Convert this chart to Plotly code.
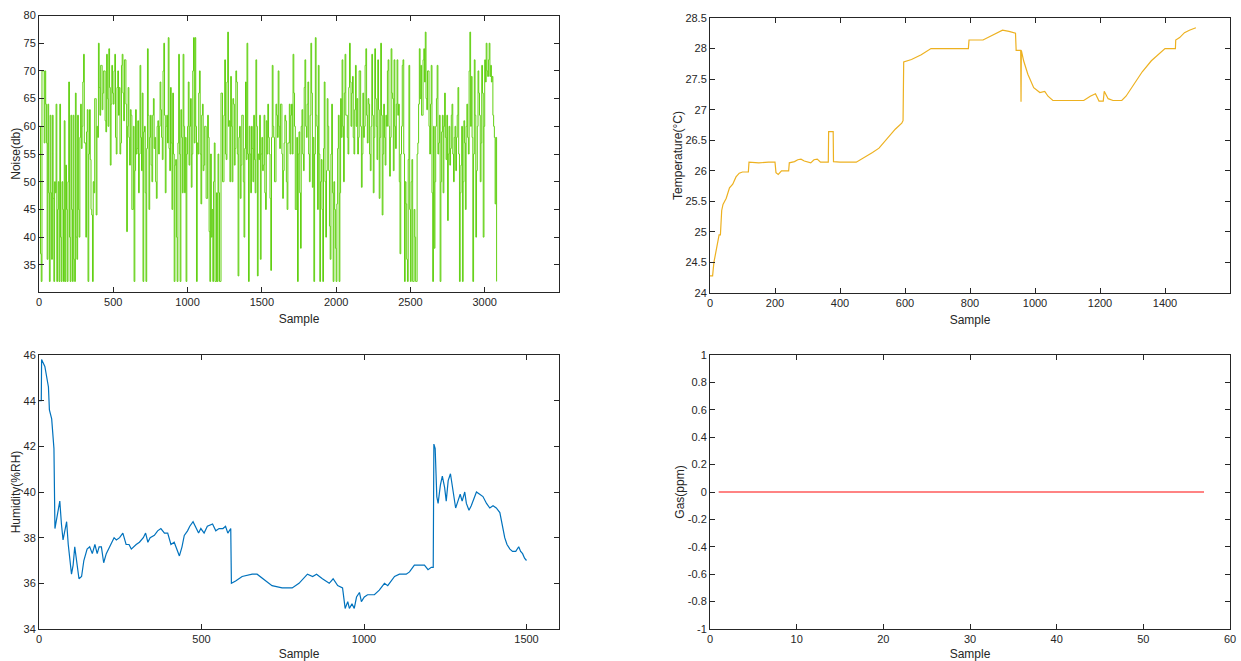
import plotly.graph_objects as go

# ---------------- data ----------------
noise_db = [
    60, 60, 37, 32, 70, 70, 70, 57, 70, 64, 57, 36, 64, 48, 32, 62, 48, 36, 62, 47,
    32, 50, 48, 64, 32, 45, 50, 32, 64, 40, 32, 50, 45, 32, 61, 32, 53, 45, 32, 50,
    68, 40, 32, 62, 45, 32, 62, 36, 32, 66, 40, 36, 62, 45, 40, 58, 64, 56, 60, 68,
    73, 57, 57, 40, 59, 63, 32, 55, 63, 54, 45, 44, 32, 50, 48, 65, 65, 44, 60, 58,
    75, 67, 62, 71, 71, 63, 66, 70, 70, 61, 59, 73, 65, 60, 74, 67, 53, 64, 71, 66,
    64, 70, 73, 58, 55, 67, 70, 62, 67, 55, 57, 71, 73, 66, 61, 72, 72, 64, 41, 60,
    67, 58, 53, 63, 62, 45, 45, 60, 32, 52, 63, 55, 56, 61, 48, 55, 71, 58, 52, 66,
    32, 59, 60, 48, 32, 56, 74, 62, 45, 58, 62, 53, 50, 62, 65, 56, 58, 50, 47, 60,
    61, 55, 60, 68, 63, 58, 54, 70, 75, 62, 48, 60, 62, 57, 76, 56, 52, 67, 57, 45,
    66, 55, 32, 53, 54, 40, 32, 57, 73, 55, 32, 63, 58, 48, 73, 60, 48, 58, 32, 55,
    60, 68, 53, 60, 65, 49, 55, 70, 76, 57, 76, 60, 32, 57, 55, 66, 70, 55, 46, 62,
    64, 52, 53, 60, 60, 47, 47, 62, 58, 41, 32, 55, 40, 45, 32, 50, 57, 32, 32, 48,
    32, 55, 48, 32, 32, 66, 66, 50, 50, 62, 72, 55, 54, 68, 77, 60, 61, 50, 69, 60,
    50, 65, 64, 53, 56, 70, 68, 55, 33, 58, 60, 47, 53, 62, 62, 50, 40, 56, 68, 54,
    75, 55, 32, 60, 55, 48, 60, 56, 50, 62, 54, 48, 72, 60, 33, 55, 54, 62, 36, 55,
    58, 52, 53, 62, 48, 45, 61, 55, 64, 58, 55, 47, 34, 58, 71, 60, 58, 50, 50, 64,
    62, 58, 70, 60, 56, 64, 64, 55, 47, 52, 57, 62, 61, 50, 45, 57, 57, 64, 55, 62,
    64, 55, 73, 66, 60, 45, 45, 58, 32, 55, 59, 48, 38, 60, 63, 55, 52, 67, 72, 60,
    58, 64, 68, 55, 50, 62, 75, 66, 49, 58, 32, 55, 76, 62, 60, 45, 71, 55, 32, 50,
    54, 45, 32, 56, 68, 50, 40, 52, 65, 60, 52, 42, 36, 55, 64, 48, 32, 50, 45, 38,
    32, 46, 56, 62, 32, 48, 65, 58, 72, 60, 50, 66, 73, 62, 62, 58, 55, 67, 75, 68,
    60, 66, 69, 58, 55, 63, 71, 60, 65, 55, 58, 70, 70, 60, 49, 55, 66, 58, 60, 71,
    74, 62, 57, 65, 64, 55, 52, 60, 73, 62, 48, 58, 74, 65, 60, 54, 72, 63, 47, 58,
    75, 62, 44, 55, 64, 58, 53, 62, 60, 70, 72, 60, 51, 58, 74, 66, 65, 52, 72, 60,
    56, 64, 72, 62, 64, 50, 37, 55, 60, 71, 72, 55, 32, 50, 46, 36, 32, 54, 71, 45,
    32, 50, 54, 32, 32, 45, 40, 32, 32, 55, 57, 64, 74, 65, 71, 62, 62, 72, 74, 68,
    77, 65, 63, 70, 70, 60, 55, 64, 71, 48, 32, 60, 38, 50, 60, 65, 71, 55, 57, 62,
    32, 50, 59, 62, 48, 60, 66, 58, 54, 62, 43, 55, 60, 53, 56, 62, 64, 55, 50, 58,
    60, 52, 58, 62, 67, 55, 32, 48, 53, 60, 32, 50, 61, 57, 45, 60, 64, 58, 55, 70,
    77, 60, 69, 58, 32, 55, 72, 62, 40, 52, 60, 70, 66, 62, 50, 57, 71, 66, 40, 60,
    72, 68, 75, 70, 69, 72, 75, 69, 71, 68, 69, 62, 60, 58, 46, 58, 32,
]
noise_step = 5
noise_sample = [i * noise_step for i in range(len(noise_db))]

temp_sample = [0, 8, 12, 20, 28, 32, 36, 40, 50, 60, 70, 80, 90, 100, 118, 120, 150, 180,
               200, 203, 210, 220, 242, 244, 260, 270, 280, 290, 300, 310, 320, 330, 340,
               364, 365, 379, 380, 400, 450, 470, 500, 520, 550, 570, 590, 594, 596, 620,
               650, 680, 795, 797, 840, 870, 900, 920, 940, 942, 956, 957, 958, 965, 978,
               996, 1015, 1030, 1040, 1055, 1150, 1170, 1186, 1197, 1210, 1213, 1225, 1240,
               1267, 1280, 1307, 1330, 1358, 1380, 1400, 1432, 1433, 1445, 1460, 1475, 1495]
temp_c = [24.28, 24.28, 24.5, 24.75, 24.95, 24.95, 25.35, 25.45, 25.55, 25.72, 25.78, 25.9,
          25.96, 25.98, 25.98, 26.14, 26.13, 26.14, 26.14, 25.97, 25.94, 26.0, 26.0, 26.13,
          26.15, 26.18, 26.19, 26.16, 26.15, 26.13, 26.18, 26.19, 26.14, 26.14, 26.64, 26.64,
          26.15, 26.14, 26.14, 26.2, 26.3, 26.37, 26.55, 26.68, 26.78, 26.82, 27.78, 27.82,
          27.9, 28.0, 28.0, 28.14, 28.14, 28.22, 28.3, 28.28, 28.25, 27.97, 27.97, 27.13,
          27.97, 27.8, 27.58, 27.36, 27.28, 27.3, 27.22, 27.15, 27.15, 27.22, 27.26, 27.14,
          27.14, 27.3, 27.18, 27.15, 27.15, 27.22, 27.44, 27.62, 27.8, 27.9, 28.0, 28.0,
          28.14, 28.18, 28.26, 28.3, 28.34]

hum_sample = [0, 7, 8, 18, 29, 32, 39, 44, 46, 49,
              56, 64, 69, 74, 85, 90, 100, 105, 110, 115,
              123, 131, 138, 148, 156, 164, 172, 179, 185, 192,
              199, 207, 217, 231, 238, 248, 258, 268, 277, 284,
              299, 309, 321, 328, 335, 342, 355, 365, 375, 386,
              396, 406, 416, 423, 432, 440, 447, 457, 464, 474,
              483, 491, 498, 508, 518, 534, 544, 554, 566, 574,
              581, 590, 592, 605, 625, 656, 671, 697, 717, 748,
              779, 800, 826, 842, 854, 872, 893, 905, 919, 934,
              942, 950, 955, 963, 970, 977, 986, 992, 1001, 1011,
              1032, 1047, 1063, 1073, 1094, 1109, 1130, 1140, 1155, 1176,
              1186, 1197, 1207, 1213, 1215, 1219, 1224, 1228, 1235, 1241,
              1248, 1253, 1259, 1266, 1272, 1277, 1282, 1289, 1296, 1302,
              1310, 1315, 1323, 1330, 1335, 1346, 1356, 1366, 1377, 1387,
              1397, 1407, 1418, 1426, 1433, 1440, 1449, 1457, 1467, 1476,
              1482, 1488, 1494, 1500]
hum_rh = [44.0, 44.0, 45.8, 45.5, 44.6, 43.6, 43.2, 42.3, 41.9, 38.4,
          38.9, 39.6, 38.6, 37.9, 38.7, 37.7, 36.4, 36.8, 37.6, 37.0,
          36.2, 36.3, 37.0, 37.5, 37.6, 37.3, 37.7, 37.3, 37.6, 37.6,
          36.9, 37.3, 37.6, 38.0, 37.9, 38.0, 38.2, 37.7, 37.7, 37.5,
          37.7, 37.8, 38.0, 38.2, 37.8, 38.0, 38.1, 38.3, 38.4, 38.2,
          38.2, 37.7, 37.8, 37.5, 37.2, 37.6, 38.1, 38.3, 38.5, 38.7,
          38.4, 38.2, 38.4, 38.2, 38.5, 38.6, 38.3, 38.4, 38.4, 38.5,
          38.2, 38.4, 36.0, 36.1, 36.3, 36.4, 36.4, 36.1, 35.9, 35.8,
          35.8, 36.0, 36.4, 36.3, 36.4, 36.2, 36.0, 36.2, 35.9, 35.8,
          34.9, 35.2, 34.9, 35.1, 34.9, 35.4, 35.6, 35.2, 35.4, 35.5,
          35.5, 35.7, 36.0, 35.9, 36.3, 36.4, 36.4, 36.5, 36.8, 36.8,
          36.8, 36.6, 36.7, 36.7, 42.1, 41.9, 39.8, 39.5, 40.3, 40.7,
          40.2, 39.6, 40.5, 40.8, 40.3, 39.7, 39.3, 39.6, 39.9, 39.6,
          40.0, 39.5, 39.2, 39.4, 39.6, 40.0, 39.9, 39.8, 39.5, 39.3,
          39.4, 39.3, 39.1, 38.5, 38.0, 37.7, 37.5, 37.4, 37.4, 37.6,
          37.4, 37.3, 37.1, 37.0]

gas_sample = list(range(1, 58))
gas_ppm = [0] * 57

noise_xticks = [0, 500, 1000, 1500, 2000, 2500, 3000]
hum_xticks = [0, 500, 1000, 1500]
gas_yticks = [1, 0.8, 0.6, 0.4, 0.2, 0, -0.2, -0.4, -0.6, -0.8, -1]
gas_yticklabels = ["1", "0.8", "0.6", "0.4", "0.2", "0", "-0.2", "-0.4", "-0.6", "-0.8", "-1"]

# ---------------- figure ----------------
W, H = 1241, 661
FONT = "Liberation Sans, Arial, Helvetica, sans-serif"
AXC = "#262626"

fig = go.Figure()
fig.add_trace(go.Scatter(x=noise_sample, y=noise_db, mode="lines", line_shape="hv",
                         line=dict(color="#62D013", width=1), xaxis="x", yaxis="y"))
fig.add_trace(go.Scatter(x=temp_sample, y=temp_c, mode="lines",
                         line=dict(color="#EDB120", width=1.2), xaxis="x2", yaxis="y2"))
fig.add_trace(go.Scatter(x=hum_sample, y=hum_rh, mode="lines",
                         line=dict(color="#0072BD", width=1.2), xaxis="x3", yaxis="y3"))
fig.add_trace(go.Scatter(x=gas_sample, y=gas_ppm, mode="lines",
                         line=dict(color="#FF5A5A", width=1.5), xaxis="x4", yaxis="y4"))

def px_x(a, b):
    return [a / W, b / W]

def px_y(top, bottom):
    return [1 - bottom / H, 1 - top / H]

base = dict(showline=True, linecolor=AXC, linewidth=1, mirror="ticks", ticks="inside",
            ticklen=5, tickcolor=AXC, tickwidth=1, showgrid=False, zeroline=False,
            tickfont=dict(family=FONT, size=11, color=AXC), automargin=False)

def xax(domain, anchor, rng, **kw):
    d = dict(base)
    d.update(domain=domain, anchor=anchor, range=rng,
             title=dict(text="Sample", font=dict(family=FONT, size=12, color=AXC),
                        standoff=7))
    d.update(kw)
    return d

def yax(domain, anchor, rng, title, **kw):
    d = dict(base)
    d.update(domain=domain, anchor=anchor, range=rng,
             title=dict(text=title, font=dict(family=FONT, size=12, color=AXC), standoff=0))
    d.update(kw)
    return d

L1, R1 = 39, 559
L2, R2 = 710, 1230

fig.update_layout(
    width=W, height=H, margin=dict(l=0, r=0, t=0, b=0),
    paper_bgcolor="white", plot_bgcolor="white", showlegend=False,
    font=dict(family=FONT, color=AXC),
    xaxis=xax(px_x(L1, R1), "y", [0, 3500], tickvals=noise_xticks),
    yaxis=yax(px_y(15.5, 292), "x", [30.1, 80], "Noise(db)", tick0=35, dtick=5),
    xaxis2=xax(px_x(L2, R2), "y2", [0, 1600], dtick=200),
    yaxis2=yax(px_y(18, 293), "x2", [24, 28.5], "Temperature(°C)", dtick=0.5),
    xaxis3=xax(px_x(L1, R1), "y3", [0, 1600], tickvals=hum_xticks),
    yaxis3=yax(px_y(355, 629), "x3", [34, 46], "Humidity(%RH)", dtick=2),
    xaxis4=xax(px_x(L2, R2), "y4", [0, 60], dtick=10),
    yaxis4=yax(px_y(355, 629), "x4", [-1, 1], "Gas(ppm)", tickvals=gas_yticks,
               ticktext=gas_yticklabels),
)

fig.write_html("out.html")
